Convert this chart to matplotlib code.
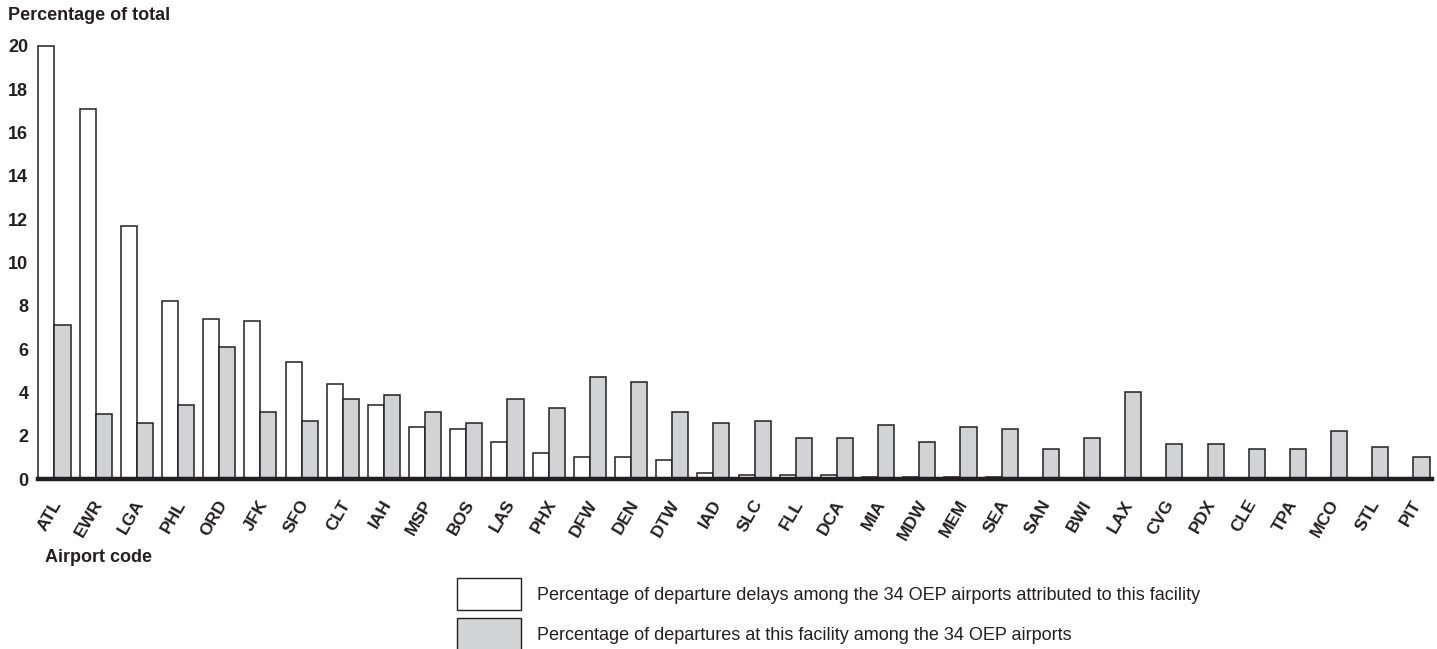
import numpy as np
import matplotlib
matplotlib.use("Agg")
import matplotlib.pyplot as plt
from matplotlib.patches import Rectangle
from matplotlib.transforms import ScaledTranslation

plt.rcParams['font.family'] = ['Liberation Sans', 'DejaVu Sans']

airports = ["ATL", "EWR", "LGA", "PHL", "ORD", "JFK", "SFO", "CLT", "IAH", "MSP",
            "BOS", "LAS", "PHX", "DFW", "DEN", "DTW", "IAD", "SLC", "FLL", "DCA",
            "MIA", "MDW", "MEM", "SEA", "SAN", "BWI", "LAX", "CVG", "PDX", "CLE",
            "TPA", "MCO", "STL", "PIT"]

# share of departure delays among the 34 OEP airports (%)
delay_share = [20.0, 17.1, 11.7, 8.2, 7.4, 7.3, 5.4, 4.4, 3.4, 2.4,
               2.3, 1.7, 1.2, 1.0, 1.0, 0.9, 0.3, 0.2, 0.2, 0.2,
               0.1, 0.1, 0.1, 0.1, 0.0, 0.0, 0.0, 0.0, 0.0, 0.0,
               0.0, 0.0, 0.0, 0.0]

# share of departures among the 34 OEP airports (%)
departure_share = [7.1, 3.0, 2.6, 3.4, 6.1, 3.1, 2.7, 3.7, 3.9, 3.1,
                   2.6, 3.7, 3.3, 4.7, 4.5, 3.1, 2.6, 2.7, 1.9, 1.9,
                   2.5, 1.7, 2.4, 2.3, 1.4, 1.9, 4.0, 1.6, 1.6, 1.4,
                   1.4, 2.2, 1.5, 1.0]

y_ticks = [0, 2, 4, 6, 8, 10, 12, 14, 16, 18, 20]

ink = "#231f20"
grey = "#d1d3d4"
W, H = 1437, 649

fig = plt.figure(figsize=(W / 100, H / 100), dpi=100)
ax = fig.add_axes([38 / W, 1 - 479 / H, (1432 - 38) / W, (479 - 46) / H])

x = np.arange(len(airports))
bw = 0.39
ax.bar(x - bw / 2, delay_share, width=bw, color="white", edgecolor=ink,
       linewidth=1.1, clip_on=False)
ax.bar(x + bw / 2, departure_share, width=bw, color=grey, edgecolor=ink,
       linewidth=1.1, clip_on=False)
ax.axhline(0, color=ink, linewidth=3.2, zorder=5, clip_on=False)

ax.set_xlim(-bw - 0.01, len(airports) - 1 + bw + 0.06)
ax.set_ylim(0, 20)
for s in ax.spines.values():
    s.set_visible(False)

ax.set_yticks(y_ticks)
ax.set_yticklabels([str(t) for t in y_ticks], fontsize=13, fontweight="bold", color=ink)
ax.tick_params(axis="y", length=0, pad=7)

ax.set_xticks(x)
ax.set_xticklabels(airports, fontsize=12.5, fontweight="bold", color=ink,
                   rotation=60, ha="right", va="center", rotation_mode="anchor")
ax.tick_params(axis="x", length=0, pad=16)
offset = ScaledTranslation(4 / 100, 0, fig.dpi_scale_trans)
for lab in ax.get_xticklabels():
    lab.set_transform(lab.get_transform() + offset)

fig.text(8 / W, 1 - 16 / H, "Percentage of total", fontsize=13, fontweight="bold",
         color=ink, ha="left", va="center")
fig.text(45 / W, 1 - 557 / H, "Airport code", fontsize=13, fontweight="bold",
         color=ink, ha="left", va="center")

# legend
legend_items = [("white", "Percentage of departure delays among the 34 OEP airports attributed to this facility"),
                (grey, "Percentage of departures at this facility among the 34 OEP airports")]
for i, (fc, txt) in enumerate(legend_items):
    top = 578 + i * 40
    fig.patches.append(Rectangle((457 / W, 1 - (top + 32) / H), 64 / W, 32 / H,
                                 transform=fig.transFigure, facecolor=fc,
                                 edgecolor=ink, linewidth=1.0))
    fig.text(537 / W, 1 - (top + 17) / H, txt, fontsize=13, color=ink,
             ha="left", va="center")

plt.savefig("out.png", dpi=100)
plt.close()
